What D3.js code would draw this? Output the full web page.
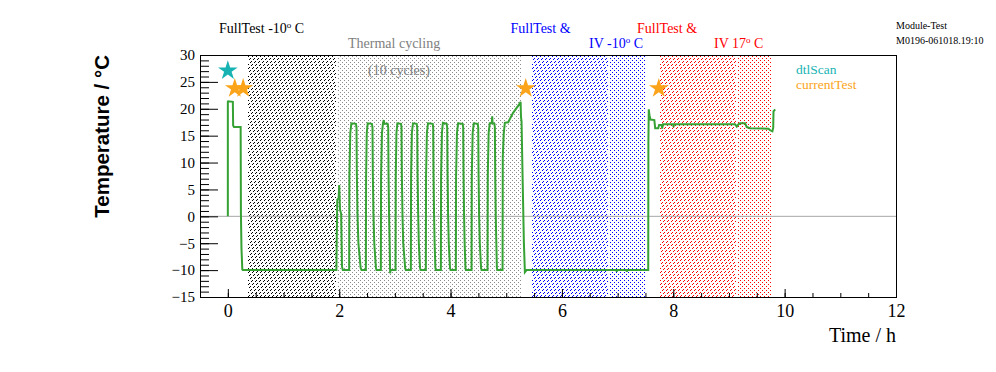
<!DOCTYPE html>
<html>
<head>
<meta charset="utf-8">
<script src="https://cdn.jsdelivr.net/npm/d3@7"></script>
<style>
  html, body { margin: 0; padding: 0; background: #fff; }
  svg { display: block; }
</style>
</head>
<body>
<div id="chart"></div>
<script>
// ---------------- DATA ----------------
// temperature curve: [time in hours, temperature in °C]
const startPart = [
  [0.000, 0], [0.000, 21.3], [0.005, 21.4], [0.090, 21.3], [0.095, 16.9], [0.110, 16.6],
  [0.230, 16.6], [0.235, 0.5], [0.245, -6], [0.260, -9.9], [0.270, -10],
  [1.950, -10], [1.955, -5], [1.965, 3.1], [1.990, 3.4], [2.000, 5.8], [2.015, 1.2],
  [2.035, 0.5], [2.050, -9.3], [2.065, -10]
];
const cyclingPart = [
  [2.179, -10], [2.183, 7.5], [2.199, 15.5], [2.219, 17.3], [2.301, 17.2], [2.311, 16.5], [2.317, 8], [2.329, 0], [2.345, -5], [2.385, -9.6], [2.401, -10],
  [2.479, -10], [2.483, 7.5], [2.495, 15.5], [2.512, 17.3], [2.588, 17.2], [2.598, 16.5], [2.604, 8], [2.616, 0], [2.630, -5], [2.660, -9.6], [2.670, -10],
  [2.748, -10], [2.752, 7.5], [2.768, 15.5], [2.785, 17.2], [2.800, 17.9], [2.810, 17.2], [2.870, 17.2], [2.880, 16.5], [2.886, 8], [2.896, 0], [2.906, -5], [2.915, -10.6], [2.922, -10],
  [3.012, -10], [3.016, 7.5], [3.028, 15.5], [3.045, 17.3], [3.110, 17.2], [3.119, 16.5], [3.125, 8], [3.137, 0], [3.150, -5], [3.185, -9.6], [3.197, -10],
  [3.287, -10], [3.291, 7.5], [3.305, 15.5], [3.325, 17.3], [3.392, 17.2], [3.401, 16.5], [3.407, 8], [3.419, 0], [3.430, -5], [3.452, -9.6], [3.461, -10],
  [3.556, -10], [3.560, 7.5], [3.575, 15.5], [3.595, 17.3], [3.680, 17.2], [3.688, 16.5], [3.694, 8], [3.704, 0], [3.714, -5], [3.728, -9.6], [3.736, -10],
  [3.826, -10], [3.830, 7.5], [3.845, 15.5], [3.862, 17.4], [3.930, 17.2], [3.940, 16.5], [3.946, 8], [3.956, 0], [3.968, -5], [3.990, -9.6], [4.000, -10],
  [4.095, -10], [4.099, 7.5], [4.115, 15.5], [4.135, 17.3], [4.218, 17.2], [4.227, 16.5], [4.233, 8], [4.243, 0], [4.253, -5], [4.268, -9.6], [4.275, -10],
  [4.377, -10], [4.381, 7.5], [4.397, 15.5], [4.417, 17.3], [4.488, 17.2], [4.497, 16.5], [4.503, 8], [4.513, 0], [4.525, -5], [4.548, -9.6], [4.557, -10],
  [4.664, -10], [4.668, 7.5], [4.684, 15.5], [4.704, 17.3], [4.740, 17.3], [4.748, 18.6], [4.755, 17.3], [4.788, 17.2], [4.796, 16.5], [4.802, 8], [4.812, 0], [4.822, -5], [4.832, -9.6], [4.838, -10]
];
const endPart = [
  [4.934, -10], [4.938, 11.1], [4.955, 15.4], [4.975, 17.4], [5.035, 17.5], [5.120, 19.2], [5.245, 21.0],
  [5.258, 21.3], [5.265, 18.5], [5.275, 17.6], [5.293, 7.7], [5.317, -4.9], [5.335, -10.4], [5.365, -10],
  [6.980, -10], [6.985, -10.3], [6.990, -10], [7.160, -10], [7.165, -10.3], [7.170, -10], [7.550, -10],
  [7.553, 13.9], [7.560, 19.9], [7.575, 18.6], [7.590, 18.0], [7.660, 17.9], [7.675, 16.4], [7.730, 16.4],
  [7.745, 17.0], [7.790, 17.0], [7.800, 16.3], [7.815, 17.1], [8.000, 17.1], [8.005, 16.6], [8.010, 17.1],
  [9.110, 17.1], [9.140, 16.7], [9.170, 17.1], [9.200, 17.3], [9.290, 17.3], [9.320, 16.6], [9.380, 16.4],
  [9.710, 16.3], [9.740, 16.0], [9.780, 15.8], [9.795, 16.5], [9.800, 19.5], [9.830, 19.9]
];

// markers
const dtlScanPoints = [[0.0, 27.1]];
const currentTestPoints = [[0.125, 23.8], [0.275, 23.8], [5.35, 23.8], [7.74, 23.8]];

// shaded bands (hours)
const bandStarts = [0.35, 1.96, 5.45, 6.84, 7.76, 9.14];
const bandEnds   = [1.96, 5.27, 6.84, 7.52, 9.14, 9.78];

// axis ticks
const xMajorTicks = [0, 2, 4, 6, 8, 10, 12];
const yMajorTicks = [-15, -10, -5, 0, 5, 10, 15, 20, 25, 30];

// ---------------- LAYOUT ----------------
const W = 996, H = 372;
const L = 200, R = 896, T = 55, B = 297;

const svg = d3.select("#chart").append("svg")
  .attr("width", W).attr("height", H)
  .style("font-family", "'Liberation Serif', 'Times New Roman', serif");

svg.append("rect").attr("width", W).attr("height", H).attr("fill", "#fff");

const x = d3.scaleLinear().domain([-0.5, 12]).range([L, R]);
const y = d3.scaleLinear().domain([-15, 30]).range([B, T]);

// fill styles for the bands, drawn as pixel paths
const hatchTest = (px, py) => (px + py) % 4 === 0 && py % 3 !== 0;
const dotTest = (px, py) => (px % 4 === 0 && py % 4 === 0) || (px % 4 === 2 && py % 4 === 2);
const bandStyles = [
  { test: hatchTest, color: "#000000" },
  { test: dotTest,   color: "#8c8c8c" },
  { test: hatchTest, color: "#0000ff" },
  { test: dotTest,   color: "#0000ff" },
  { test: hatchTest, color: "#ff0000" },
  { test: dotTest,   color: "#ff0000" }
];
function bandPath(x0, x1, test) {
  let s = "";
  for (let px = Math.ceil(x0); px < Math.floor(x1); px++) {
    for (let py = T + 1; py < B; py++) {
      if (test(px, py)) s += `M${px},${py}h1v1h-1z`;
    }
  }
  return s;
}
svg.append("g").selectAll("path").data(bandStarts).join("path")
  .attr("d", (d, i) => bandPath(x(d), x(bandEnds[i]), bandStyles[i].test))
  .attr("fill", (d, i) => bandStyles[i].color)
  .attr("shape-rendering", "crispEdges");

// zero line
svg.append("line")
  .attr("x1", L).attr("x2", R).attr("y1", y(0)).attr("y2", y(0))
  .attr("stroke", "#a8a8a8").attr("stroke-width", 1);

// curve
const curve = startPart.concat(cyclingPart, endPart);
svg.append("path").datum(curve)
  .attr("fill", "none")
  .attr("stroke", "#35a233")
  .attr("stroke-width", 2)
  .attr("stroke-linejoin", "miter")
  .attr("d", d3.line().x(d => x(d[0])).y(d => y(d[1])));

// markers
const star = d3.symbol().type(d3.symbolStar).size(120);
svg.append("g").selectAll("path").data(dtlScanPoints).join("path")
  .attr("d", star).attr("fill", "#17b3b3")
  .attr("transform", d => `translate(${x(d[0])},${y(d[1])})`);
svg.append("g").selectAll("path").data(currentTestPoints).join("path")
  .attr("d", star).attr("fill", "#fba41a")
  .attr("transform", d => `translate(${x(d[0])},${y(d[1])})`);

// axes
const xAxis = svg.append("g").attr("transform", `translate(0,${B})`)
  .call(d3.axisBottom(x).tickValues(xMajorTicks).tickSize(-8).tickSizeOuter(0).tickPadding(7));
const xMinor = svg.append("g").attr("transform", `translate(0,${B})`)
  .call(d3.axisBottom(x).tickValues(d3.range(-0.5, 12.01, 0.5)).tickFormat("").tickSize(-4).tickSizeOuter(0));
const yAxis = svg.append("g").attr("transform", `translate(${L},0)`)
  .call(d3.axisLeft(y).tickValues(yMajorTicks).tickSize(-18).tickSizeOuter(0).tickPadding(5));
const yMinor = svg.append("g").attr("transform", `translate(${L},0)`)
  .call(d3.axisLeft(y).tickValues(d3.range(-15, 30.01, 1)).tickFormat("").tickSize(-9).tickSizeOuter(0));

[xAxis, xMinor, yAxis, yMinor].forEach(g => {
  g.select(".domain").remove();
  g.selectAll("line").attr("stroke", "#000").attr("stroke-width", 1);
});
xAxis.selectAll("text").attr("font-family", "'Liberation Serif', serif").attr("font-size", 18).attr("fill", "#000");
yAxis.selectAll("text").attr("font-family", "'Liberation Serif', serif").attr("font-size", 15).attr("fill", "#000");

// frame
svg.append("rect").attr("x", L).attr("y", T).attr("width", R - L).attr("height", B - T)
  .attr("fill", "none").attr("stroke", "#000").attr("stroke-width", 1)
  .attr("shape-rendering", "crispEdges");

// axis titles
svg.append("text").attr("x", R).attr("y", 342).attr("text-anchor", "end")
  .attr("font-size", 20).attr("fill", "#000").text("Time / h");
svg.append("text")
  .attr("transform", `translate(108.5,${T}) rotate(-90)`)
  .attr("text-anchor", "end")
  .attr("font-family", "'Liberation Sans', Arial, sans-serif")
  .attr("font-weight", "bold").attr("font-size", 20.5).attr("fill", "#000")
  .text("Temperature / °C");

// annotation helper with superscript "o"
function degLabel(xp, yp, pre, post, color) {
  const t = svg.append("text").attr("x", xp).attr("y", yp)
    .attr("font-size", 14).attr("fill", color);
  t.append("tspan").text(pre);
  t.append("tspan").attr("dy", -5).attr("font-size", 9).text("o");
  t.append("tspan").attr("dy", 5).text(post);
}
degLabel(219, 32.5, "FullTest -10", " C", "#000");
svg.append("text").attr("x", 348).attr("y", 47.5).attr("font-size", 14).attr("fill", "#808080").text("Thermal cycling");
svg.append("text").attr("x", 368).attr("y", 74.5).attr("font-size", 14).attr("fill", "#808080").text("(10 cycles)");
svg.append("text").attr("x", 510.5).attr("y", 32.5).attr("font-size", 14).attr("fill", "#0000ff").text("FullTest &");
degLabel(589, 47.5, "IV -10", " C", "#0000ff");
svg.append("text").attr("x", 637).attr("y", 32.5).attr("font-size", 14).attr("fill", "#ff0000").text("FullTest &");
degLabel(714, 47.5, "IV 17", " C", "#ff0000");

// legend
svg.append("text").attr("x", 796).attr("y", 74).attr("font-size", 13.5).attr("fill", "#17b3b3").text("dtlScan");
svg.append("text").attr("x", 796).attr("y", 89).attr("font-size", 13.5).attr("fill", "#fba41a").text("currentTest");

// module info
svg.append("text").attr("x", 896).attr("y", 28.5).attr("font-size", 10).attr("fill", "#000").text("Module-Test");
svg.append("text").attr("x", 896).attr("y", 43.5).attr("font-size", 10).attr("fill", "#000").text("M0196-061018.19:10");
</script>
</body>
</html>
